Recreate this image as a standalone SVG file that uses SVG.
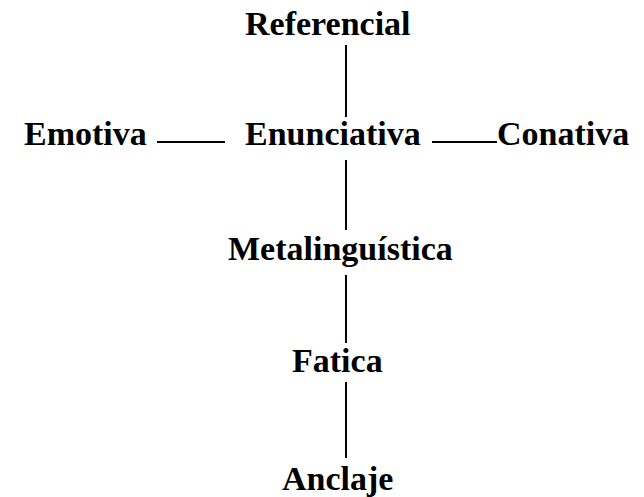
<svg xmlns="http://www.w3.org/2000/svg" width="644" height="497" viewBox="0 0 644 497">
<style>
.t{font-family:"Liberation Serif","Times New Roman",serif;font-weight:bold;font-size:34px;fill:#000}
.c{stroke:#000;stroke-width:2;fill:none}
</style>
<rect width="644" height="497" fill="#fff"/>
<g id="connectors">
<line class="c" x1="346" y1="45" x2="346" y2="117"/>
<line class="c" x1="346" y1="160" x2="346" y2="230"/>
<line class="c" x1="346" y1="275" x2="346" y2="343"/>
<line class="c" x1="346" y1="382" x2="346" y2="458"/>
<line class="c" x1="157" y1="142" x2="225" y2="142"/>
<line class="c" x1="432" y1="142" x2="497" y2="142"/>
</g>
<g id="referencial"><text class="t" x="245" y="35">Referencial</text></g>
<g id="emotiva"><text class="t" x="24" y="145">Emotiva</text></g>
<g id="enunciativa"><text class="t" x="245" y="145">Enunciativa</text></g>
<g id="conativa"><text class="t" x="497" y="145">Conativa</text></g>
<g id="metalinguistica"><text class="t" x="228" y="260">Metalinguística</text></g>
<g id="fatica"><text class="t" x="292" y="372">Fatica</text></g>
<g id="anclaje"><text class="t" x="282" y="490">Anclaje</text></g>
</svg>
